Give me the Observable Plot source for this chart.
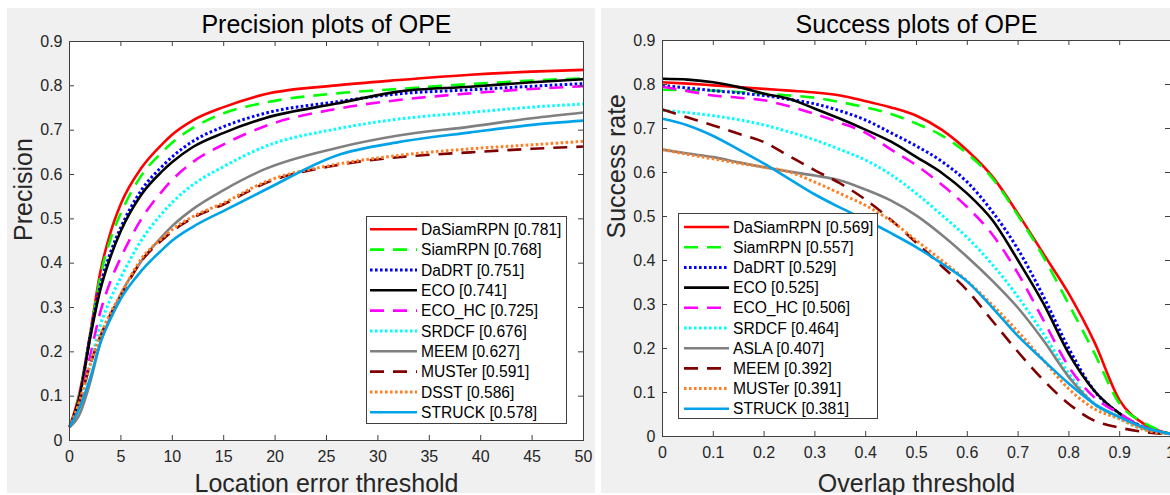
<!DOCTYPE html>
<html><head><meta charset="utf-8">
<script src="https://cdn.jsdelivr.net/npm/d3@7"></script>
<script src="https://cdn.jsdelivr.net/npm/@observablehq/plot@0.6"></script>
<style>
body{margin:0;background:#fff;width:1170px;height:495px;overflow:hidden;position:relative;font-family:"Liberation Sans",Arial,sans-serif;}
.panel{position:absolute;}
</style></head><body>
<div id="p1" class="panel" style="left:7px;top:8px"></div>
<div id="p2" class="panel" style="left:601px;top:8px"></div>
<script>
// ---------- Data: Precision plots ----------
const precTitle = "Precision plots of OPE";
const precXLabel = "Location error threshold";
const precYLabel = "Precision";
const precX = [0,1,2,3,4,5,7,9,10,12,15,19,26,32,39,45,50];
const precXTicks = [0,5,10,15,20,25,30,35,40,45,50];
const precNames = ["DaSiamRPN","SiamRPN","DaDRT","ECO","ECO_HC","SRDCF","MEEM","MUSTer","DSST","STRUCK"];
const precScores = [0.781,0.768,0.751,0.741,0.725,0.676,0.627,0.591,0.586,0.578];
const pDaSiamRPN = [.03,.11,.24,.38,.47,.534,.615,.668,.690,.722,.752,.781,.801,.813,.825,.832,.836];
const pSiamRPN   = [.03,.105,.235,.37,.455,.513,.598,.650,.672,.705,.738,.762,.783,.793,.804,.812,.817];
const pDaDRT     = [.03,.10,.235,.35,.425,.481,.565,.618,.640,.675,.708,.738,.764,.782,.791,.799,.805];
const pECO       = [.03,.10,.23,.34,.415,.473,.555,.607,.628,.662,.694,.727,.760,.787,.798,.808,.815];
const pECO_HC    = [.03,.09,.19,.29,.36,.413,.500,.562,.588,.628,.668,.709,.748,.768,.783,.793,.799];
const pSRDCF     = [.03,.085,.17,.26,.32,.368,.452,.512,.537,.577,.618,.663,.703,.725,.740,.752,.759];
const pMEEM      = [.03,.06,.13,.22,.28,.331,.405,.460,.484,.522,.565,.612,.660,.688,.708,.727,.740];
const pMUSTer    = [.03,.09,.17,.235,.285,.327,.405,.452,.472,.502,.533,.580,.621,.639,.650,.658,.663];
const pDSST      = [.03,.09,.17,.237,.288,.330,.410,.456,.476,.505,.536,.583,.623,.643,.658,.667,.675];
const pSTRUCK    = [.03,.075,.14,.22,.275,.320,.383,.430,.451,.482,.518,.565,.643,.673,.695,.712,.7215];
const precSeries = [pDaSiamRPN,pSiamRPN,pDaDRT,pECO,pECO_HC,pSRDCF,pMEEM,pMUSTer,pDSST,pSTRUCK];

// ---------- Data: Success plots ----------
const succTitle = "Success plots of OPE";
const succXLabel = "Overlap threshold";
const succYLabel = "Success rate";
const succX = [0,.05,.1,.15,.2,.25,.3,.35,.4,.45,.5,.55,.6,.65,.7,.75,.8,.85,.9,.95,1];
const succXTicks = [0,.1,.2,.3,.4,.5,.6,.7,.8,.9,1];
const succNames = ["DaSiamRPN","SiamRPN","DaDRT","ECO","ECO_HC","SRDCF","ASLA","MEEM","MUSTer","STRUCK"];
const succScores = [0.569,0.557,0.529,0.525,0.506,0.464,0.407,0.392,0.391,0.381];
const sDaSiamRPN = [.805,.802,.798,.794,.790,.786,.782,.775,.762,.748,.729,.697,.650,.590,.506,.415,.324,.215,.082,.027,.006];
const sSiamRPN   = [.788,.787,.786,.783,.779,.775,.770,.760,.748,.733,.711,.684,.643,.586,.502,.408,.300,.190,.074,.030,.006];
const sDaDRT     = [.798,.792,.786,.781,.775,.766,.756,.740,.719,.690,.660,.625,.578,.510,.425,.318,.200,.104,.052,.020,.006];
const sECO       = [.813,.811,.805,.794,.779,.767,.745,.722,.697,.670,.635,.599,.552,.491,.400,.302,.188,.104,.052,.018,.006];
const sECO_HC    = [.795,.785,.775,.770,.764,.750,.733,.713,.690,.652,.616,.572,.521,.458,.370,.264,.158,.089,.052,.020,.006];
const sSRDCF     = [.741,.736,.729,.720,.708,.692,.674,.652,.628,.595,.552,.503,.452,.390,.317,.233,.143,.074,.040,.015,.006];
const sASLA      = [.652,.643,.635,.623,.612,.602,.593,.582,.561,.536,.502,.458,.408,.353,.292,.218,.135,.074,.044,.018,.006];
const sMEEM      = [.743,.725,.707,.688,.669,.637,.605,.575,.538,.492,.440,.387,.332,.262,.192,.128,.074,.036,.020,.010,.005];
const sMUSTer    = [.652,.641,.631,.621,.612,.601,.578,.552,.525,.490,.445,.400,.353,.298,.238,.173,.108,.063,.040,.015,.006];
const sSTRUCK    = [.722,.707,.683,.652,.620,.585,.550,.520,.492,.462,.430,.393,.352,.292,.228,.173,.120,.074,.044,.020,.006];
const succSeries = [sDaSiamRPN,sSiamRPN,sDaDRT,sECO,sECO_HC,sSRDCF,sASLA,sMEEM,sMUSTer,sSTRUCK];

const yTicks = [0,.1,.2,.3,.4,.5,.6,.7,.8,.9];

// ---------- Styles (by rank) ----------
const DASH = "14,9", DOT = "2.6,2.4";
const styles = [
  {color:"#ff0000", dash:null, width:2.6},
  {color:"#00ff00", dash:DASH, width:2.6},
  {color:"#0000ff", dash:DOT,  width:3},
  {color:"#000000", dash:null, width:2.6},
  {color:"#ff00ff", dash:DASH, width:2.6},
  {color:"#00ffff", dash:DOT,  width:3},
  {color:"#808080", dash:null, width:2.6},
  {color:"#800000", dash:DASH, width:2.6},
  {color:"#ff7f27", dash:DOT,  width:3},
  {color:"#00a2e8", dash:null, width:2.6}
];

const FONT = "'Liberation Sans', Arial, sans-serif";
const AXC = "#404040";
const fmt = d => String(+d.toFixed(2));

function makePanel({xs, series, names, xDomain, xTicks, title, xLabel, yLabel,
                    width, height, mt, mr, mb, ml, titleDy, xLabelDy, yLabelDx}) {
  const table = [];
  series.forEach((vals, s) => vals.forEach((v, j) => table.push({s, name: names[s], x: xs[j], y: v})));
  const fw = width - ml - mr, fh = height - mt - mb;
  const lines = series.map((_, s) => {
    const o = {x: "x", y: "y", stroke: styles[s].color, strokeWidth: styles[s].width,
               curve: "monotone-x", strokeLinecap: "butt", strokeLinejoin: "round"};
    if (styles[s].dash) o.strokeDasharray = styles[s].dash;
    return Plot.line(table.filter(d => d.s === s), o);
  });
  return Plot.plot({
    width, height, marginTop: mt, marginRight: mr, marginBottom: mb, marginLeft: ml,
    x: {domain: xDomain},
    y: {domain: [0, 0.9]},
    style: {background: "#f0f0f0", fontFamily: FONT, fontSize: "16px", color: "#262626", overflow: "visible"},
    marks: [
      Plot.frame({fill: "white"}),
      ...lines,
      Plot.tickX(xTicks, {x: d => d, insetTop: fh - 5, stroke: AXC}),
      Plot.tickX(xTicks, {x: d => d, insetBottom: fh - 5, stroke: AXC}),
      Plot.tickY(yTicks, {y: d => d, insetRight: fw - 5, stroke: AXC}),
      Plot.tickY(yTicks, {y: d => d, insetLeft: fw - 5, stroke: AXC}),
      Plot.frame({stroke: AXC}),
      Plot.axisX(xTicks, {tickSize: 0, tickPadding: 10, label: null, fontSize: 16, fill: "#262626", tickFormat: fmt}),
      Plot.axisY(yTicks, {tickSize: 0, tickPadding: 7, label: null, fontSize: 16, fill: "#262626", tickFormat: fmt}),
      Plot.text([title], {text: d => d, frameAnchor: "top", lineAnchor: "bottom", dy: titleDy, fontSize: 25, fill: "#000"}),
      Plot.text([xLabel], {text: d => d, frameAnchor: "bottom", lineAnchor: "bottom", dy: xLabelDy, fontSize: 25, fill: "#262626"}),
      Plot.text([yLabel], {text: d => d, frameAnchor: "left", lineAnchor: "middle", rotate: -90, dx: yLabelDx, fontSize: 25, fill: "#262626"})
    ]
  });
}

document.getElementById("p1").append(makePanel({
  xs: precX, series: precSeries, names: precNames, xDomain: [0, 50], xTicks: precXTicks,
  title: precTitle, xLabel: precXLabel, yLabel: precYLabel,
  width: 588, height: 485, mt: 33, mr: 12, mb: 53, ml: 62, titleDy: -9, xLabelDy: 51, yLabelDx: -45.5
}));
document.getElementById("p2").append(makePanel({
  xs: succX, series: succSeries, names: succNames, xDomain: [0, 1], xTicks: succXTicks,
  title: succTitle, xLabel: succXLabel, yLabel: succYLabel,
  width: 569, height: 485, mt: 32, mr: 0, mb: 57, ml: 61, titleDy: -8, xLabelDy: 55, yLabelDx: -46
}));

// ---------- Legends ----------
function legend(left, top, w, h, rowTop, rowStep, x1, names, scores) {
  const svg = d3.select("body").append("svg")
    .style("position", "absolute").style("left", left + "px").style("top", top + "px")
    .attr("width", w).attr("height", h);
  svg.append("rect").attr("x", 0.5).attr("y", 0.5).attr("width", w - 1).attr("height", h - 1)
    .attr("fill", "white").attr("stroke", AXC);
  names.forEach((n, i) => {
    const y = rowTop + i * rowStep;
    svg.append("line").attr("x1", x1).attr("x2", 51).attr("y1", y).attr("y2", y)
      .attr("stroke", styles[i].color).attr("stroke-width", styles[i].width)
      .attr("stroke-dasharray", styles[i].dash);
    svg.append("text").attr("x", 55).attr("y", y).attr("dy", "0.36em")
      .attr("font-family", FONT).attr("font-size", "15.6px").attr("fill", "#000")
      .text(`${n} [${scores[i].toFixed(3)}]`);
  });
}
legend(366, 216, 201, 208, 13.3, 20.33, 4, precNames, precScores);
legend(678, 213, 200, 206, 14, 20.2, 6, succNames, succScores);
</script>
</body></html>
